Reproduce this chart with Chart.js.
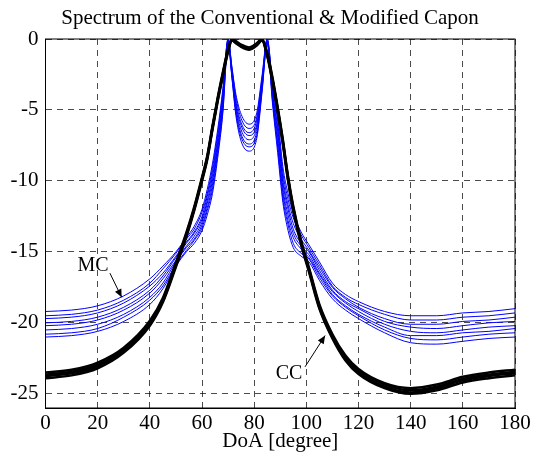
<!DOCTYPE html>
<html>
<head>
<meta charset="utf-8">
<script src="https://cdn.jsdelivr.net/npm/chart.js@4.4.1/dist/chart.umd.min.js"></script>
<style>
  html, body { margin: 0; padding: 0; background: #fff; }
  #wrap { width: 542px; height: 454px; }
</style>
</head>
<body>
<div id="wrap"><canvas id="chart"></canvas></div>
<script>
// DoA grid (degrees)
const doa = [0, 10, 20, 30, 40, 45, 50, 54, 57, 60, 62, 64, 66, 68, 70, 71.5, 73, 75, 78, 81, 83, 85,
  87, 89, 91, 93, 95, 98, 101, 105, 110, 115, 120, 130, 140, 150, 160, 170, 180];

// Conventional Capon (CC) runs, dB
const cc1 = [-23.5, -23.3, -22.8, -21.75, -19.85, -18.25, -15.75, -13.65, -11.85, -9.75, -8.25, -6.15, -4.15, -2.35, -0.7, 0, -0.15, -0.4, -0.6, -0.3, 0, -1.0,
  -2.7, -4.8, -7.1, -9.7, -11.8, -14.2, -16.1, -18.7, -20.8, -22.3, -23.25, -24.25, -24.6, -24.35, -23.8, -23.5, -23.3];
const cc2 = [-23.65, -23.45, -22.95, -21.85, -19.95, -18.35, -15.85, -13.75, -11.95, -9.85, -8.35, -6.25, -4.25, -2.45, -0.77, -0.03, -0.2, -0.45, -0.65, -0.35, -0.03, -1.07,
  -2.8, -4.9, -7.2, -9.8, -11.9, -14.3, -16.2, -18.8, -20.9, -22.4, -23.35, -24.35, -24.75, -24.5, -23.95, -23.65, -23.45];
const cc3 = [-23.75, -23.55, -23.05, -21.95, -20.05, -18.45, -15.95, -13.85, -12.0, -9.9, -8.4, -6.3, -4.3, -2.5, -0.83, -0.07, -0.25, -0.5, -0.7, -0.4, -0.07, -1.13,
  -2.9, -5.0, -7.3, -9.9, -12.0, -14.4, -16.3, -18.9, -21.0, -22.55, -23.5, -24.5, -24.9, -24.6, -24.05, -23.75, -23.55];
const cc4 = [-23.9, -23.7, -23.2, -22.1, -20.2, -18.55, -16.05, -13.95, -12.1, -10.0, -8.5, -6.4, -4.4, -2.6, -0.9, -0.1, -0.3, -0.55, -0.75, -0.45, -0.1, -1.2,
  -3.0, -5.1, -7.4, -10.0, -12.1, -14.5, -16.4, -19.0, -21.1, -22.65, -23.6, -24.6, -25.0, -24.75, -24.2, -23.9, -23.7];

// Modified Capon (MC) runs, dB
const mc1 = [-19.2, -19.1, -18.8, -18.1, -16.9, -16.0, -15.0, -14.0, -13.2, -12.0, -10.6, -8.8, -6.4, -3.5, 0, -2.0, -3.9, -5.3, -6.0, -5.2, -2.6, 0,
  -3.0, -5.4, -9.0, -10.9, -12.3, -13.6, -14.5, -15.7, -17.2, -18.0, -18.5, -19.2, -19.5, -19.5, -19.3, -19.2, -19.0];
const mc2 = [-19.5, -19.4, -19.1, -18.4, -17.2, -16.2, -15.1, -14.1, -13.4, -12.2, -10.9, -9.1, -6.7, -3.7, 0, -2.1, -4.1, -5.6, -6.3, -5.5, -2.8, 0,
  -3.2, -5.8, -9.4, -11.3, -12.6, -13.8, -14.7, -15.9, -17.4, -18.2, -18.7, -19.4, -19.8, -19.8, -19.6, -19.5, -19.3];
const mc3 = [-19.7, -19.6, -19.3, -18.6, -17.4, -16.5, -15.3, -14.3, -13.6, -12.5, -11.1, -9.4, -7.0, -4.0, -0.1, -2.2, -4.4, -5.9, -6.6, -5.7, -3.0, -0.1,
  -3.5, -6.2, -9.8, -11.7, -13.0, -14.1, -14.9, -16.1, -17.5, -18.3, -18.9, -19.7, -20.1, -20.1, -19.9, -19.8, -19.6];
const mc4 = [-20.0, -19.9, -19.6, -18.9, -17.7, -16.7, -15.4, -14.4, -13.7, -12.7, -11.4, -9.7, -7.3, -4.2, -0.1, -2.4, -4.6, -6.1, -6.8, -6.0, -3.1, -0.1,
  -3.7, -6.5, -10.1, -12.0, -13.4, -14.4, -15.0, -16.3, -17.7, -18.5, -19.0, -19.9, -20.3, -20.4, -20.2, -20.0, -19.9];
const mc5 = [-20.2, -20.1, -19.8, -19.1, -17.9, -16.9, -15.6, -14.6, -13.9, -12.9, -11.6, -10.0, -7.6, -4.5, -0.2, -2.5, -4.8, -6.4, -7.1, -6.2, -3.3, -0.2,
  -3.9, -6.9, -10.5, -12.4, -13.7, -14.6, -15.2, -16.5, -17.8, -18.6, -19.2, -20.1, -20.6, -20.7, -20.5, -20.3, -20.2];
const mc6 = [-20.5, -20.4, -20.1, -19.4, -18.2, -17.2, -15.7, -14.7, -14.1, -13.1, -11.9, -10.3, -7.8, -4.7, -0.2, -2.6, -5.0, -6.7, -7.4, -6.5, -3.5, -0.2,
  -4.1, -7.3, -10.8, -12.8, -14.0, -14.8, -15.4, -16.6, -18.0, -18.8, -19.4, -20.3, -20.9, -20.9, -20.7, -20.6, -20.4];
const mc7 = [-20.8, -20.7, -20.4, -19.6, -18.4, -17.4, -15.9, -14.9, -14.2, -13.3, -12.1, -10.6, -8.1, -5.0, -0.3, -2.7, -5.2, -6.9, -7.6, -6.8, -3.6, -0.3,
  -4.3, -7.6, -11.2, -13.1, -14.4, -15.1, -15.5, -16.8, -18.1, -18.9, -19.5, -20.5, -21.1, -21.2, -21.0, -20.8, -20.7];
const mc8 = [-21.0, -20.9, -20.6, -19.9, -18.7, -17.6, -16.0, -15.0, -14.4, -13.5, -12.4, -10.9, -8.4, -5.2, -0.3, -2.8, -5.4, -7.2, -7.9, -7.0, -3.8, -0.3,
  -4.5, -8.0, -11.5, -13.5, -14.7, -15.3, -15.7, -17.0, -18.3, -19.1, -19.7, -20.7, -21.4, -21.5, -21.3, -21.1, -21.0];

const xTicks = [0, 20, 40, 60, 80, 100, 120, 140, 160, 180];
const yTicks = [0, -5, -10, -15, -20, -25];

const titleText = 'Spectrum of the Conventional & Modified Capon';

// text labels with arrows, in data units: [label, textX, textY, fromX, fromY, toX, toY]
const notes = [
  ['MC', 18.2, -16.0, 24.7, -16.5, 29.2, -18.2],
  ['CC', 93.4, -23.6, 99.5, -23.1, 107.2, -20.9]
];

const FONT = 'Liberation Serif, Times New Roman, serif';

const toPoints = arr => arr.map((v, i) => ({ x: doa[i], y: v }));

const ccRuns = [cc1, cc2, cc3, cc4];
const mcRuns = [mc1, mc2, mc3, mc4, mc5, mc6, mc7, mc8];

const datasets = [
  ...ccRuns.map((r, i) => ({
    label: 'CC ' + (i + 1),
    data: toPoints(r),
    borderColor: '#000000',
    borderWidth: 2.5
  })),
  ...mcRuns.map((r, i) => ({
    label: 'MC ' + (i + 1),
    data: toPoints(r),
    borderColor: '#0000ff',
    borderWidth: 1
  }))
];

// box around the plot, title above it, and the MC / CC arrows
const boxAndNotes = {
  id: 'boxAndNotes',
  afterDraw(chart) {
    const { ctx, chartArea: a, scales } = chart;
    ctx.save();
    ctx.strokeStyle = '#000';
    ctx.lineWidth = 1;
    ctx.strokeRect(a.left, a.top, a.right - a.left, a.bottom - a.top);

    ctx.fillStyle = '#000';
    ctx.textAlign = 'center';
    ctx.textBaseline = 'middle';
    ctx.font = '21px ' + FONT;
    ctx.fillText(titleText, 270, 18);

    ctx.font = '20px ' + FONT;
    notes.forEach(([txt, tx, ty, fx, fy, ex, ey]) => {
      ctx.fillText(txt, scales.x.getPixelForValue(tx), scales.y.getPixelForValue(ty));
      const x0 = scales.x.getPixelForValue(fx), y0 = scales.y.getPixelForValue(fy);
      const x1 = scales.x.getPixelForValue(ex), y1 = scales.y.getPixelForValue(ey);
      ctx.beginPath();
      ctx.moveTo(x0, y0);
      ctx.lineTo(x1, y1);
      ctx.stroke();
      const ang = Math.atan2(y1 - y0, x1 - x0);
      const len = 8, w = 3.5;
      ctx.beginPath();
      ctx.moveTo(x1, y1);
      ctx.lineTo(x1 - len * Math.cos(ang) + w * Math.sin(ang), y1 - len * Math.sin(ang) - w * Math.cos(ang));
      ctx.lineTo(x1 - len * Math.cos(ang) - w * Math.sin(ang), y1 - len * Math.sin(ang) + w * Math.cos(ang));
      ctx.closePath();
      ctx.fill();
    });
    ctx.restore();
  }
};

new Chart(document.getElementById('chart'), {
  type: 'line',
  data: { datasets },
  options: {
    responsive: true,
    maintainAspectRatio: false,
    animation: false,
    layout: { padding: { left: 0, right: 27, top: 39, bottom: 0 } },
    elements: {
      point: { radius: 0 },
      line: { cubicInterpolationMode: 'monotone', fill: false }
    },
    plugins: {
      legend: { display: false },
      tooltip: { enabled: false },
      title: { display: false }
    },
    scales: {
      x: {
        type: 'linear',
        min: 0,
        max: 180,
        afterFit: s => { s.height = 46; },
        afterBuildTicks: s => { s.ticks = xTicks.map(v => ({ value: v })); },
        ticks: { color: '#000', font: { family: FONT, size: 21 }, padding: 3, maxRotation: 0 },
        grid: { color: 'rgba(0,0,0,0.7)', drawTicks: false },
        border: { color: '#000', dash: [6, 5] },
        title: {
          display: true,
          text: 'DoA [degree]',
          color: '#000',
          font: { family: FONT, size: 21 },
          padding: { top: 0, bottom: 0 }
        }
      },
      y: {
        min: -26,
        max: 0,
        afterFit: s => { s.width = 45.5; },
        afterBuildTicks: s => { s.ticks = yTicks.map(v => ({ value: v })); },
        ticks: { color: '#000', font: { family: FONT, size: 21 }, padding: 7 },
        grid: { color: 'rgba(0,0,0,0.7)', drawTicks: false },
        border: { color: '#000', dash: [6, 5] }
      }
    }
  },
  plugins: [boxAndNotes]
});
</script>
</body>
</html>
